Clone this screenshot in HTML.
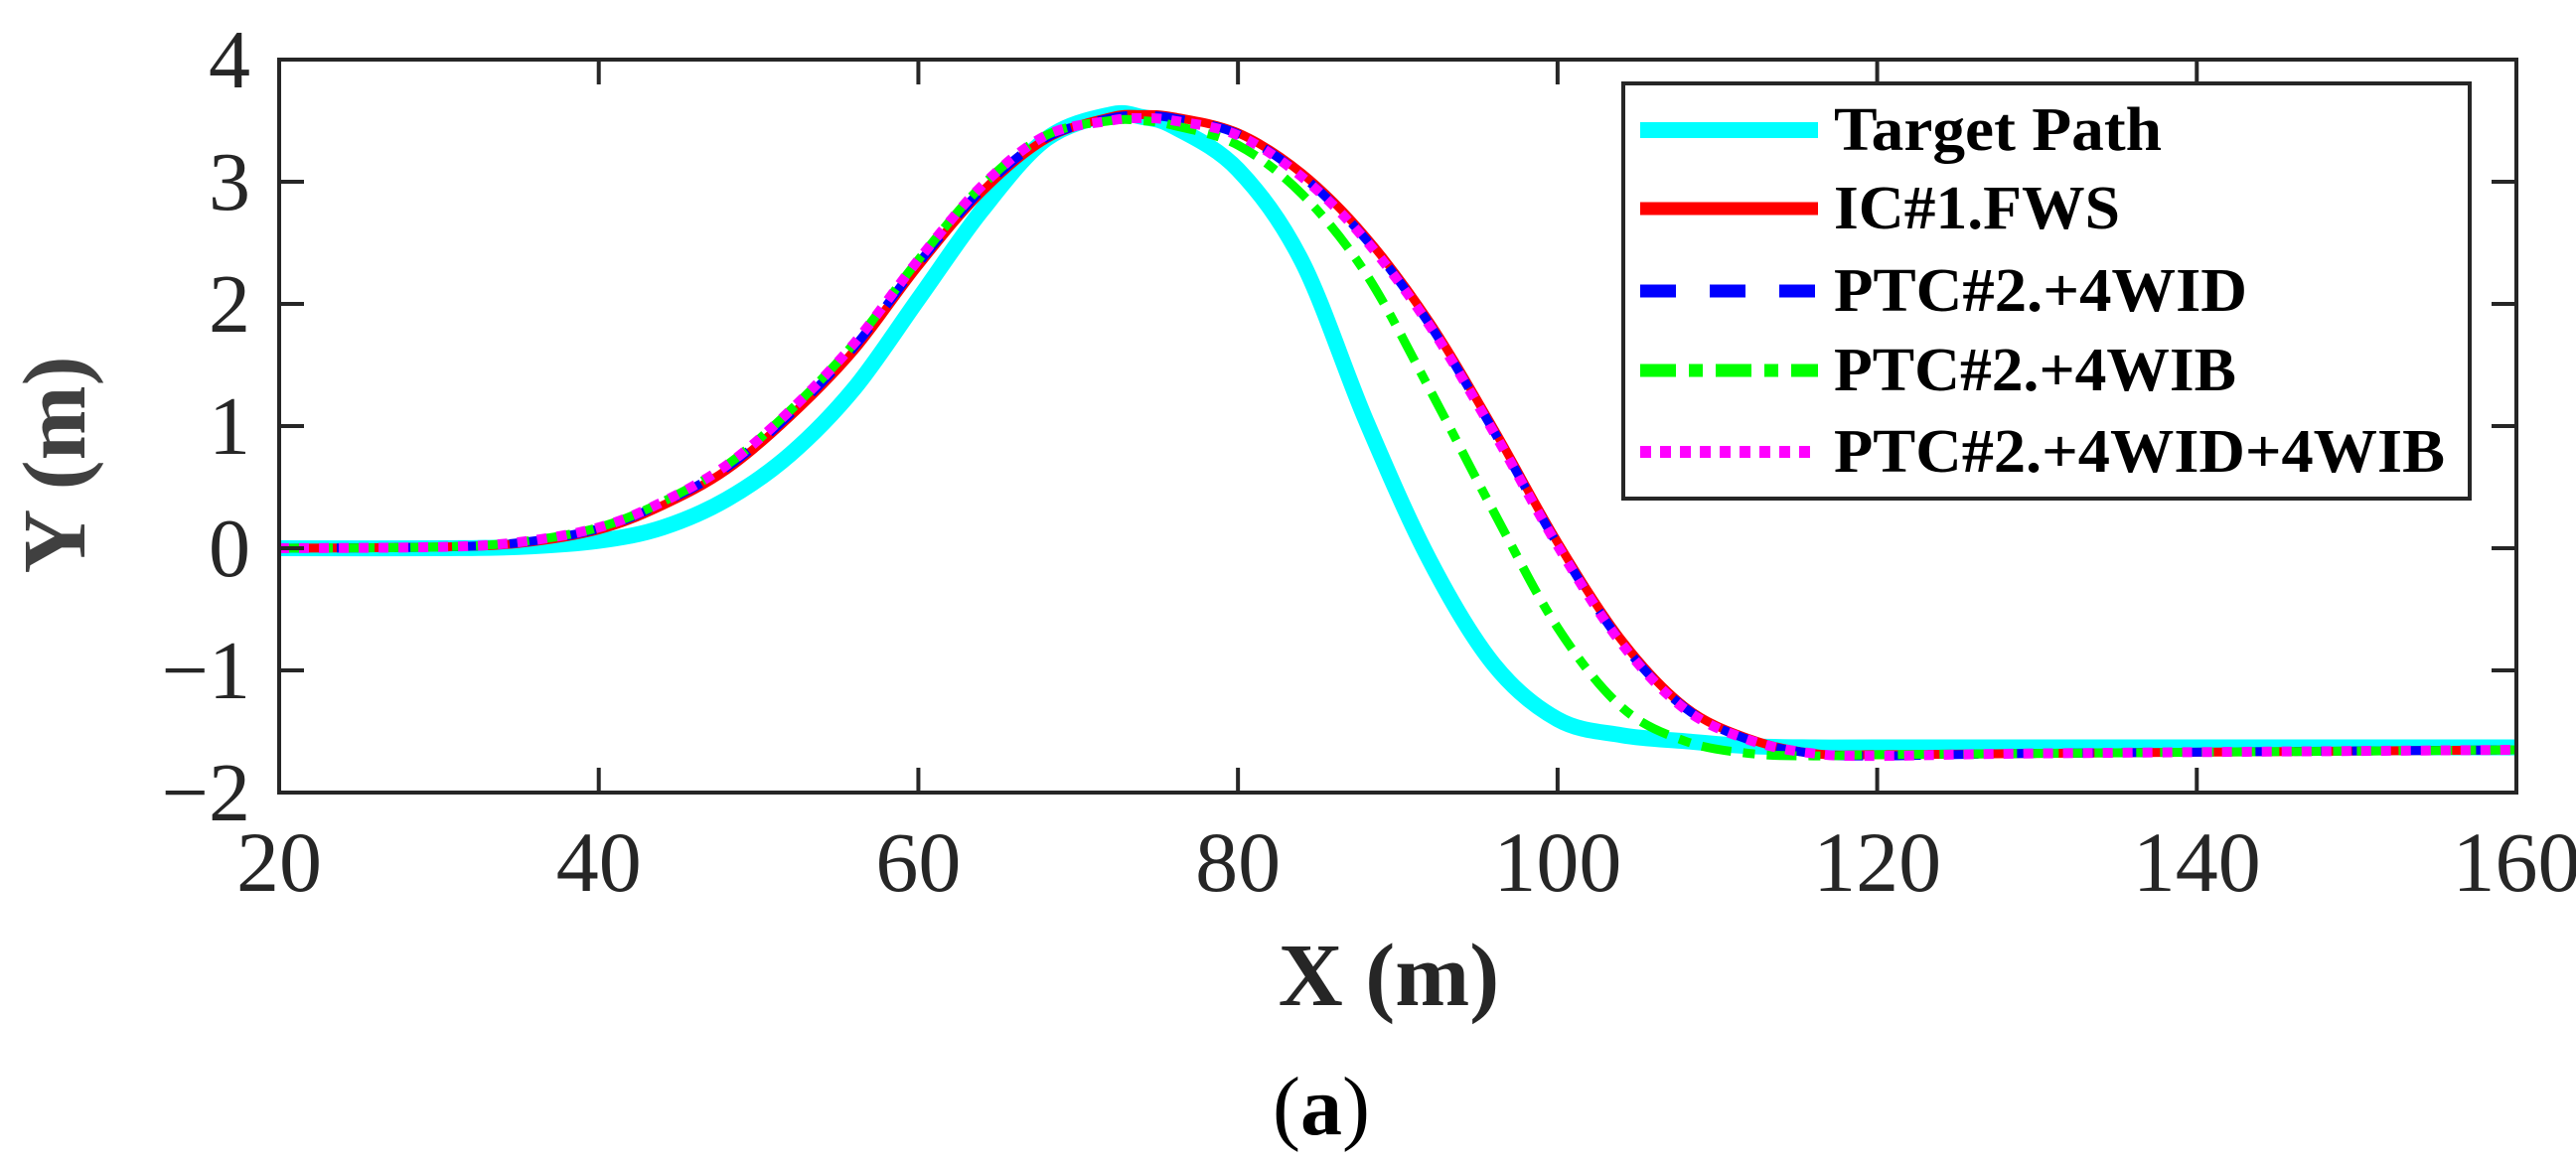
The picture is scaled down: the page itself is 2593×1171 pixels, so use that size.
<!DOCTYPE html>
<html><head><meta charset="utf-8"><style>
html,body{margin:0;padding:0;background:#fff;}
svg{display:block;}
</style></head><body>
<svg id="chart" width="2593" height="1171" viewBox="0 0 2593 1171" xmlns="http://www.w3.org/2000/svg">
  <rect width="2593" height="1171" fill="#fff"/>
  <g id="series"></g>
  <g id="axes"></g>
  <g id="legend">
    <rect x="1634" y="84" width="852" height="418" fill="#fff" stroke="#262626" stroke-width="4"/>
    <line x1="1651" y1="131" x2="1830" y2="131" stroke="#00ffff" stroke-width="16"/>
    <line x1="1651" y1="210" x2="1830" y2="210" stroke="#ff0000" stroke-width="13"/>
    <line x1="1651" y1="293" x2="1830" y2="293" stroke="#0000ff" stroke-width="13" stroke-dasharray="36 34"/>
    <line x1="1651" y1="373" x2="1830" y2="373" stroke="#00ff00" stroke-width="13" stroke-dasharray="36 13 14 13"/>
    <line x1="1651" y1="455" x2="1830" y2="455" stroke="#ff00ff" stroke-width="12" stroke-dasharray="11 9"/>
    <g font-family="'Liberation Serif', serif" font-weight="bold" font-size="62" fill="#000">
      <text x="1846" y="151" textLength="330" lengthAdjust="spacingAndGlyphs">Target Path</text>
      <text x="1846" y="230" textLength="288" lengthAdjust="spacingAndGlyphs">IC#1.FWS</text>
      <text x="1846" y="313" textLength="416" lengthAdjust="spacingAndGlyphs">PTC#2.+4WID</text>
      <text x="1846" y="393" textLength="405" lengthAdjust="spacingAndGlyphs">PTC#2.+4WIB</text>
      <text x="1846" y="475" textLength="615" lengthAdjust="spacingAndGlyphs">PTC#2.+4WID+4WIB</text>
    </g>
  </g>
  <text x="1398" y="1012" text-anchor="middle" font-family="'Liberation Serif', serif" font-weight="bold" font-size="90" fill="#262626">X (m)</text>
  <text transform="translate(85,468) rotate(-90)" text-anchor="middle" font-family="'Liberation Serif', serif" font-weight="bold" font-size="90" fill="#404040">Y (m)</text>
  <text x="1330" y="1142" text-anchor="middle" font-family="'Liberation Serif', serif" font-size="84" fill="#000">(<tspan font-weight="bold">a</tspan>)</text>
</svg>
<script>
const xs = [20,30,35,40,44,48,52,56,60,64,68,72,74,76,80,84,88,92,96,100,104,108,112,116,120,130,160];
const targetY = [0,0,0.01,0.06,0.17,0.4,0.77,1.31,2.04,2.77,3.35,3.55,3.53,3.45,3.1,2.35,1.05,-0.1,-0.95,-1.4,-1.53,-1.58,-1.62,-1.63,-1.63,-1.63,-1.63];
const ic1Y = [0,0.01,0.04,0.15,0.35,0.64,1.08,1.62,2.31,2.92,3.35,3.53,3.55,3.53,3.4,3.07,2.55,1.85,0.98,0.05,-0.75,-1.3,-1.56,-1.68,-1.69,-1.68,-1.65];
const wid4Y = [0,0.01,0.045,0.16,0.37,0.66,1.1,1.65,2.33,2.94,3.36,3.52,3.54,3.52,3.39,3.05,2.53,1.83,0.96,0.03,-0.77,-1.31,-1.57,-1.68,-1.7,-1.68,-1.65];
const wib4Y = [0,0.01,0.05,0.17,0.38,0.68,1.13,1.68,2.36,2.97,3.38,3.5,3.5,3.46,3.3,2.9,2.25,1.3,0.3,-0.65,-1.3,-1.58,-1.68,-1.7,-1.69,-1.68,-1.65];
const both4Y = [0,0.01,0.05,0.17,0.38,0.68,1.13,1.68,2.36,2.97,3.38,3.5,3.52,3.5,3.38,3.04,2.52,1.82,0.95,0.02,-0.78,-1.32,-1.57,-1.68,-1.7,-1.68,-1.65];
const xTicks = [20,40,60,80,100,120,140,160];
const yTicks = [-2,-1,0,1,2,3,4];
const xTickLabels = ["20","40","60","80","100","120","140","160"];
const yTickLabels = ["\u22122","\u22121","0","1","2","3","4"];

const NS = "http://www.w3.org/2000/svg";
const L = 281, R = 2533, T = 60, B = 798;
const xMin = 20, xMax = 160, yMin = -2, yMax = 4;
function sx(v){ return L + (v - xMin) / (xMax - xMin) * (R - L); }
function sy(v){ return B - (v - yMin) / (yMax - yMin) * (B - T); }

function smoothPath(xv, yv){
  const p = xv.map((x,i)=>[sx(x), sy(yv[i])]);
  let d = "M" + p[0][0].toFixed(1) + "," + p[0][1].toFixed(1);
  for (let i = 0; i < p.length - 1; i++){
    const p0 = p[i-1] || p[i], p1 = p[i], p2 = p[i+1], p3 = p[i+2] || p[i+1];
    const c1x = p1[0] + (p2[0]-p0[0])/6, c1y = p1[1] + (p2[1]-p0[1])/6;
    const c2x = p2[0] - (p3[0]-p1[0])/6, c2y = p2[1] - (p3[1]-p1[1])/6;
    d += " C" + c1x.toFixed(1) + "," + c1y.toFixed(1) + " " + c2x.toFixed(1) + "," + c2y.toFixed(1) + " " + p2[0].toFixed(1) + "," + p2[1].toFixed(1);
  }
  return d;
}

const series = document.getElementById("series");
function addLine(yv, color, w, dash, name){
  const el = document.createElementNS(NS, "path");
  el.setAttribute("d", smoothPath(xs, yv));
  el.setAttribute("fill", "none");
  el.setAttribute("stroke", color);
  el.setAttribute("stroke-width", w);
  if (dash) el.setAttribute("stroke-dasharray", dash);
  el.setAttribute("clip-path", "url(#plotclip)");
  
  
  series.appendChild(el);
}
const svg = document.getElementById("chart");
const defs = document.createElementNS(NS, "defs");
defs.innerHTML = '<clipPath id="plotclip"><rect x="'+L+'" y="'+T+'" width="'+(R-L)+'" height="'+(B-T)+'"/></clipPath>';
svg.insertBefore(defs, svg.firstChild);

addLine(targetY, "#00ffff", 16, null, "target-path-line");
addLine(ic1Y, "#ff0000", 9, null, "ic1-fws-line");
addLine(wid4Y, "#0000ff", 9, "30 28", "ptc2-4wid-line");
addLine(wib4Y, "#00ff00", 9, "30 12 12 12", "ptc2-4wib-line");
addLine(both4Y, "#ff00ff", 10, "10 10", "ptc2-4wid-4wib-line");

const axes = document.getElementById("axes");
const frame = document.createElementNS(NS, "rect");
frame.setAttribute("x", L); frame.setAttribute("y", T);
frame.setAttribute("width", R-L); frame.setAttribute("height", B-T);
frame.setAttribute("fill", "none"); frame.setAttribute("stroke", "#262626"); frame.setAttribute("stroke-width", "4");


axes.appendChild(frame);

function tickLine(x1,y1,x2,y2,name){
  const t = document.createElementNS(NS, "line");
  t.setAttribute("x1",x1); t.setAttribute("y1",y1); t.setAttribute("x2",x2); t.setAttribute("y2",y2);
  t.setAttribute("stroke","#262626"); t.setAttribute("stroke-width","4");
  
  
  axes.appendChild(t);
}
const TL = 25;
xTicks.forEach((v,i)=>{
  const x = sx(v);
  tickLine(x,B,x,B-TL,"x-tick");
  tickLine(x,T,x,T+TL,"x-tick-top");
  const tx = document.createElementNS(NS, "text");
  tx.setAttribute("x", x); tx.setAttribute("y", 897);
  tx.setAttribute("text-anchor","middle");
  tx.setAttribute("font-family","'Liberation Serif', serif");
  tx.setAttribute("font-size","86");
  tx.setAttribute("fill","#262626");
  tx.textContent = xTickLabels[i];
  
  
  axes.appendChild(tx);
});
yTicks.forEach((v,i)=>{
  const y = sy(v);
  tickLine(L,y,L+TL,y,"y-tick");
  tickLine(R,y,R-TL,y,"y-tick-right");
  const tx = document.createElementNS(NS, "text");
  tx.setAttribute("x", 252); tx.setAttribute("y", y + 28);
  tx.setAttribute("text-anchor","end");
  tx.setAttribute("font-family","'Liberation Serif', 'DejaVu Serif', serif");
  tx.setAttribute("font-size","84");
  tx.setAttribute("fill","#262626");
  tx.textContent = yTickLabels[i];
  
  
  axes.appendChild(tx);
});
</script>
</body></html>
